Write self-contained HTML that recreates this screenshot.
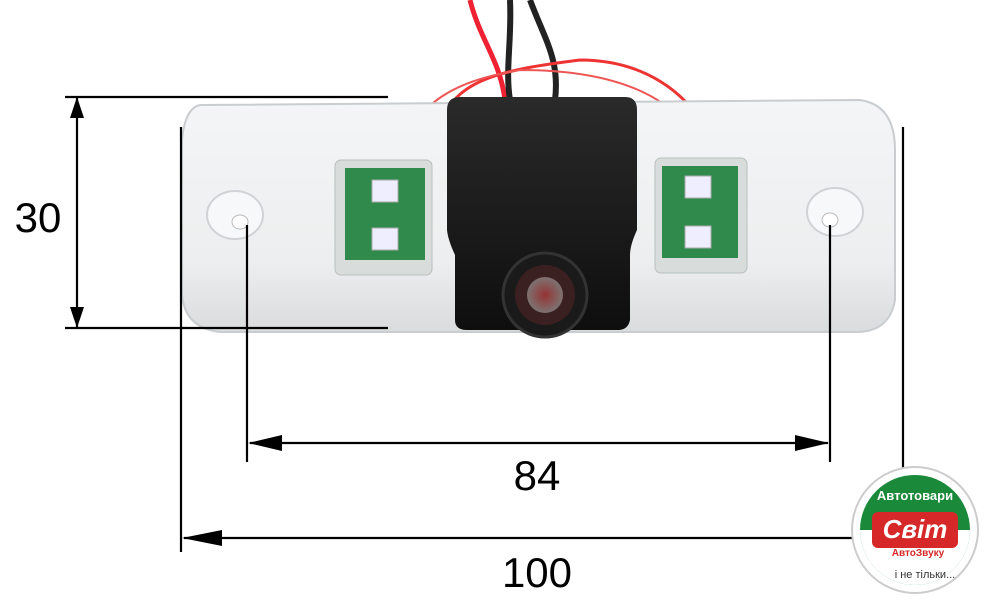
<!DOCTYPE html>
<html><head><style>html,body{margin:0;padding:0;background:#fff;}svg{display:block}</style></head>
<body>
<svg width="1000" height="605" viewBox="0 0 1000 605" xmlns="http://www.w3.org/2000/svg">
<defs>
<linearGradient id="pl" x1="0" y1="0" x2="0" y2="1"><stop offset="0" stop-color="#f4f5f6"/><stop offset="0.7" stop-color="#eceeef"/><stop offset="1" stop-color="#d9dcdd"/></linearGradient>
<linearGradient id="bx" x1="0" y1="0" x2="0" y2="1"><stop offset="0" stop-color="#2a2a2a"/><stop offset="1" stop-color="#0e0e0e"/></linearGradient>
<radialGradient id="lg" cx="0.5" cy="0.5" r="0.5"><stop offset="0" stop-color="#d04040"/><stop offset="1" stop-color="#aaa"/></radialGradient>
</defs>
<!-- wires -->
<path d="M470 0 C480 40 500 60 505 100" stroke="#e23" stroke-width="5" fill="none"/>
<path d="M510 0 C512 40 505 70 510 100" stroke="#222" stroke-width="6" fill="none"/>
<path d="M530 0 C545 40 560 60 555 100" stroke="#222" stroke-width="6" fill="none"/>
<path d="M440 130 C450 80 500 70 580 60 C640 60 690 90 710 140" stroke="#e33" stroke-width="3" fill="none"/>
<path d="M400 165 C410 100 460 80 520 70 C620 70 690 100 700 160" stroke="#e55" stroke-width="2" fill="none"/>
<!-- housing -->
<path d="M200 105 L860 100 Q895 105 895 150 L895 300 Q890 330 860 332 L220 332 Q185 328 182 295 L182 140 Q185 108 200 105 Z" fill="url(#pl)" stroke="#c9cdd0" stroke-width="2"/>
<ellipse cx="235" cy="215" rx="28" ry="24" fill="#f7f8f9" stroke="#cfd3d6" stroke-width="2"/>
<ellipse cx="240" cy="222" rx="8" ry="7" fill="#fff" stroke="#bbb"/>
<ellipse cx="835" cy="212" rx="28" ry="24" fill="#f7f8f9" stroke="#cfd3d6" stroke-width="2"/>
<ellipse cx="830" cy="220" rx="8" ry="7" fill="#fff" stroke="#bbb"/>
<!-- LED boards -->
<rect x="335" y="160" width="97" height="115" rx="6" fill="#d8dcda" stroke="#b9bfbc"/>
<rect x="345" y="168" width="80" height="92" fill="#2f8a4b"/>
<rect x="372" y="180" width="26" height="22" fill="#eef" stroke="#aaa"/>
<rect x="372" y="228" width="26" height="22" fill="#eef" stroke="#aaa"/>
<rect x="655" y="158" width="92" height="115" rx="6" fill="#d8dcda" stroke="#b9bfbc"/>
<rect x="662" y="166" width="76" height="92" fill="#2f8a4b"/>
<rect x="685" y="176" width="26" height="22" fill="#eef" stroke="#aaa"/>
<rect x="685" y="226" width="26" height="22" fill="#eef" stroke="#aaa"/>
<!-- camera box -->
<path d="M460 97 L625 97 Q637 97 637 110 L637 230 Q630 245 630 255 L630 320 Q628 330 618 330 L467 330 Q455 330 455 320 L455 255 Q448 240 447 230 L447 110 Q447 97 460 97 Z" fill="url(#bx)"/>
<circle cx="545" cy="295" r="42" fill="#1a1a1a" stroke="#333" stroke-width="3"/>
<circle cx="545" cy="295" r="30" fill="#3a2020"/>
<circle cx="545" cy="295" r="18" fill="url(#lg)" opacity="0.6"/>
<!-- dimension lines -->
<g stroke="#000" stroke-width="2.2" fill="none">
<line x1="65" y1="97" x2="388" y2="97"/>
<line x1="65" y1="328" x2="388" y2="328"/>
<line x1="77" y1="97" x2="77" y2="328"/>
<line x1="247" y1="225" x2="247" y2="462"/>
<line x1="830" y1="225" x2="830" y2="462"/>
<line x1="250" y1="443" x2="828" y2="443"/>
<line x1="181" y1="127" x2="181" y2="552"/>
<line x1="903" y1="127" x2="903" y2="552"/>
<line x1="184" y1="538" x2="900" y2="538"/>
</g>
<g fill="#000">
<polygon points="77,97 70,118 84,118"/>
<polygon points="77,328 70,307 84,307"/>
<polygon points="248,443 282,435 282,451"/>
<polygon points="829,443 795,435 795,451"/>
<polygon points="182,538 222,530 222,546"/>
<polygon points="902,538 862,530 862,546"/>
</g>
<g font-family="Liberation Sans, sans-serif" font-size="42" fill="#000" text-anchor="middle">
<text x="38" y="232">30</text>
<text x="537" y="490">84</text>
<text x="537" y="587">100</text>
</g>
<!-- logo -->
<circle cx="915" cy="530" r="63" fill="#fff" stroke="#ccc" stroke-width="2"/>
<circle cx="915" cy="530" r="55" fill="#1a8a3a"/>
<path d="M860 530 A55 55 0 0 0 970 530 Z" fill="#fff"/>
<rect x="872" y="512" width="86" height="36" rx="6" fill="#d62828"/>
<text x="915" y="538" font-family="Liberation Sans, sans-serif" font-size="26" font-weight="bold" font-style="italic" fill="#fff" text-anchor="middle">Світ</text>
<text x="915" y="500" font-family="Liberation Sans, sans-serif" font-size="13" font-weight="bold" fill="#fff" text-anchor="middle">Автотовари</text>
<text x="918" y="556" font-family="Liberation Sans, sans-serif" font-size="10" font-weight="bold" fill="#d62828" text-anchor="middle">АвтоЗвуку</text>
<text x="925" y="578" font-family="Liberation Sans, sans-serif" font-size="11" fill="#333" text-anchor="middle">і не тільки...</text>
</svg>
</body></html>
